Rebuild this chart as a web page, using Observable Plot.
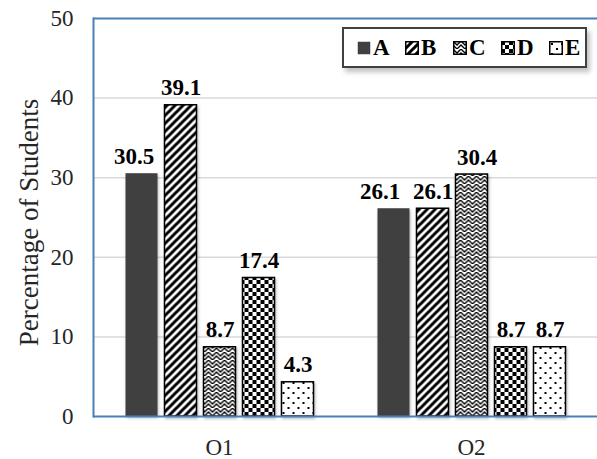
<!DOCTYPE html>
<html>
<head>
<meta charset="utf-8">
<script src="https://cdn.jsdelivr.net/npm/d3@7"></script>
<script src="https://cdn.jsdelivr.net/npm/@observablehq/plot@0.6"></script>
<style>
  body { margin: 0; background: #fff; }
  #chart { position: relative; width: 597px; height: 459px; font-family: "Liberation Serif", "Times New Roman", serif; }
  #chart svg g[aria-label="bar"] rect { filter: drop-shadow(1.5px 2px 1.5px rgba(0,0,0,0.28)); }
  .legend {
    position: absolute; left: 342px; top: 27px; width: 245px; height: 41px; box-sizing: border-box;
    border: 2px solid #404040; background: #fff; box-shadow: 3px 4px 5px rgba(0,0,0,0.25);
    display: flex; align-items: center; padding-left: 13px;
  }
  .legend .item { display: flex; align-items: center; width: 48px; flex: none; }
  .legend svg { display: block; margin-right: 2px; }
  .legend span { font-family: "Liberation Serif", "Times New Roman", serif; font-weight: bold; font-size: 23px; color: #000; line-height: 1; }
</style>
</head>
<body>
<!-- fill patterns shared by the bars and the legend swatches -->
<svg width="0" height="0" style="position:absolute">
  <defs>
    <pattern id="pat-B" width="8" height="8" patternUnits="userSpaceOnUse">
      <rect width="8" height="8" fill="#fff"/>
      <path d="M-2,2 L2,-2 M0,8 L8,0 M6,10 L10,6" stroke="#000" stroke-width="3"/>
    </pattern>
    <pattern id="pat-C" width="8" height="8" patternUnits="userSpaceOnUse">
      <rect width="8" height="8" fill="#fff"/>
      <path d="M0,0 L4,4 L8,0 M0,4 L4,8 L8,4" fill="none" stroke="#000" stroke-width="1.3" stroke-linecap="square"/>
    </pattern>
    <pattern id="pat-D" width="8" height="8" patternUnits="userSpaceOnUse">
      <rect width="8" height="8" fill="#fff"/>
      <rect x="0" y="0" width="4" height="4" fill="#000"/>
      <rect x="4" y="4" width="4" height="4" fill="#000"/>
    </pattern>
    <pattern id="pat-E" width="10" height="10" patternUnits="userSpaceOnUse">
      <rect width="10" height="10" fill="#fff"/>
      <rect x="2" y="2" width="2" height="2" fill="#000"/>
      <rect x="7" y="7" width="2" height="2" fill="#000"/>
    </pattern>
  </defs>
</svg>
<div id="chart"></div>
<script>
// Share of students choosing each answer, per option
const options = ["O1", "O2"];
const answers = ["A", "B", "C", "D", "E"];
const valuesO1 = [30.5, 39.1, 8.7, 17.4, 4.3];
const valuesO2 = [26.1, 26.1, 30.4, 8.7, 8.7];
const yTicks = [0, 10, 20, 30, 40, 50];
const yLabel = "Percentage of Students";

const seriesByOption = {O1: valuesO1, O2: valuesO2};
const rows = options.flatMap(o => answers.map((a, i) => ({option: o, answer: a, value: seriesByOption[o][i]})));

const fillFor = a => a === "A" ? "#404040" : `url(#pat-${a})`;
const strokeFor = a => a === "A" ? "none" : "#000";

// hand-placed value labels that sit off-centre to avoid crowding
const labelShift = {"O1 A": -8, "O2 A": -14, "O2 C": 5};
const shiftOf = d => labelShift[`${d.option} ${d.answer}`] ?? 0;
const shiftGroups = [...new Set(rows.map(shiftOf))];

const serif = "'Liberation Serif', 'Times New Roman', serif";
const blue = "#4a7ebb";
const fmt = d3.format(".1f");

const plot = Plot.plot({
  width: 597,
  height: 459,
  marginTop: 18,
  marginBottom: 43,
  marginLeft: 92.5,
  marginRight: 0,
  style: {fontFamily: serif, background: "#fff", overflow: "visible"},
  fx: {domain: options, padding: 0, label: null},
  x: {domain: answers, paddingInner: 0.18, paddingOuter: 0.82, axis: null},
  y: {domain: [0, 50], label: null},
  color: {type: "identity"},
  marks: [
    Plot.gridY(yTicks.filter(t => t > 0 && t < 50), {stroke: "#d9d9d9", strokeOpacity: 1, strokeWidth: 1.5}),
    Plot.barY(rows, {
      fx: "option", x: "answer", y: "value",
      fill: d => fillFor(d.answer),
      stroke: d => strokeFor(d.answer),
      strokeWidth: 1.5
    }),
    Plot.ruleY([0, 50], {stroke: blue, strokeWidth: 2}),
    Plot.frame({anchor: "left", facetAnchor: "left", stroke: blue, strokeWidth: 2}),
    ...shiftGroups.map(s => Plot.text(rows.filter(d => shiftOf(d) === s), {
      fx: "option", x: "answer", y: "value",
      text: d => fmt(d.value),
      lineAnchor: "bottom", dy: -10, dx: s,
      fontSize: 23, fontWeight: "bold", fill: "#000"
    })),
    Plot.axisY({ticks: yTicks, tickSize: 0, tickPadding: 20, fontSize: 23, fill: "#262626", label: null}),
    Plot.axisFx({anchor: "bottom", tickSize: 0, tickPadding: 22, fontSize: 23, fill: "#262626", label: null}),
    Plot.text([yLabel], {
      frameAnchor: "left", facetAnchor: "left", rotate: -90,
      textAnchor: "middle", lineAnchor: "top", dx: -75, dy: 5,
      fontSize: 27, fill: "#262626"
    })
  ]
});

const chart = document.getElementById("chart");
chart.appendChild(plot);

// legend: swatch + bold answer letter
const legend = document.createElement("div");
legend.className = "legend";
for (const a of answers) {
  const item = document.createElement("div");
  item.className = "item";
  item.innerHTML = `<svg width="14" height="14"><rect x="0.75" y="0.75" width="12.5" height="12.5" fill="${fillFor(a)}" stroke="${strokeFor(a)}" stroke-width="1.5"/></svg><span>${a}</span>`;
  legend.appendChild(item);
}
chart.appendChild(legend);
</script>
</body>
</html>
